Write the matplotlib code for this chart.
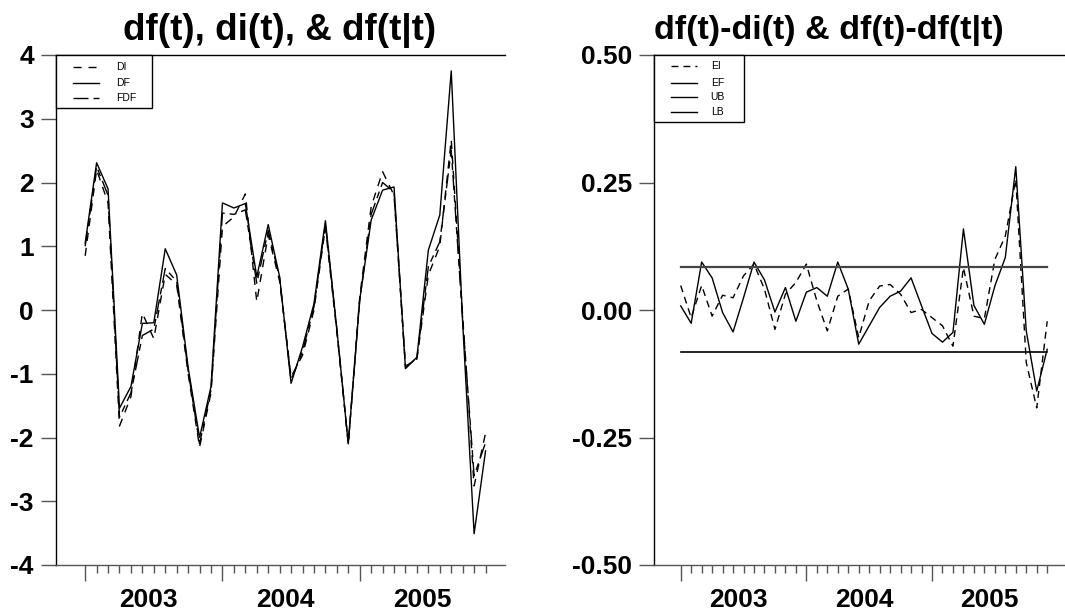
import matplotlib
matplotlib.use("Agg")
import matplotlib.pyplot as plt
from matplotlib.lines import Line2D
from matplotlib.patches import Rectangle
import numpy as np

plt.rcParams['font.family'] = ['Liberation Sans', 'DejaVu Sans']
plt.rcParams['axes.unicode_minus'] = False

# monthly index: 0 = Jan 2003 ... 35 = Dec 2005
months = list(range(36))
years = ["2003", "2004", "2005"]

DF = [1.05, 2.31, 1.90, -1.54, -1.20, -0.21, -0.20, 0.96, 0.55, -0.90,
      -2.00, -1.20, 1.68, 1.60, 1.67, 0.52, 1.34, 0.52, -1.15, -0.58,
      0.10, 1.40, -0.30, -2.10, 0.16, 1.41, 1.88, 1.93, -0.92, -0.74,
      0.94, 1.49, 3.75, -0.20, -3.51, -2.21]
DI = [0.85, 2.20, 1.68, -1.82, -1.36, -0.05, -0.45, 0.56, 0.40, -1.00,
      -2.15, -1.30, 1.31, 1.46, 1.82, 0.13, 1.18, 0.45, -1.05, -0.71,
      0.00, 1.30, -0.35, -2.10, 0.20, 1.62, 2.17, 1.80, -0.88, -0.77,
      0.55, 1.00, 2.67, -0.10, -2.76, -1.93]
FDF = [1.00, 2.25, 1.80, -1.68, -1.30, -0.40, -0.30, 0.65, 0.45, -0.95,
       -2.10, -1.25, 1.52, 1.50, 1.57, 0.42, 1.25, 0.50, -1.10, -0.65,
       0.05, 1.35, -0.30, -2.10, 0.15, 1.50, 2.00, 1.85, -0.90, -0.75,
       0.68, 1.07, 2.51, -0.15, -2.60, -2.08]

EI = [0.048, -0.015, 0.048, -0.012, 0.029, 0.024, 0.067, 0.090, 0.041, -0.038,
      0.031, 0.054, 0.090, 0.018, -0.041, 0.027, 0.041, -0.054, 0.018, 0.047,
      0.050, 0.031, -0.005, 0.001, -0.015, -0.031, -0.071, 0.083, -0.012, -0.017,
      0.099, 0.145, 0.256, -0.103, -0.192, -0.022]
EF = [0.008, -0.026, 0.094, 0.063, -0.005, -0.043, 0.024, 0.094, 0.059, -0.004,
      0.044, -0.022, 0.035, 0.044, 0.027, 0.094, 0.041, -0.067, -0.031, 0.005,
      0.027, 0.037, 0.063, 0.008, -0.046, -0.063, -0.044, 0.159, 0.009, -0.028,
      0.047, 0.103, 0.281, -0.041, -0.159, -0.077]
UB = 0.084
LB = -0.083

W, H = 1065, 614
fig = plt.figure(figsize=(W / 100, H / 100), dpi=100)

left_box = (56, 55, 505, 565)     # pixel: x0, ytop, x1, ybottom
right_box = (654, 55, 1065, 565)


def make_ax(box):
    x0, yt, x1, yb = box
    return fig.add_axes([x0 / W, 1 - yb / H, (x1 - x0) / W, (yb - yt) / H])


ax1 = make_ax(left_box)
ax2 = make_ax(right_box)

DASH_DI = (5.8, 5.0)
DASH_FDF = (10.8, 3.6, 5.0, 3.6)
DASH_EI = (5.0, 3.6)

ax1.plot(months, DI, color='black', lw=1.0, dashes=DASH_DI)
ax1.plot(months, DF, color='black', lw=1.0)
ax1.plot(months, FDF, color='black', lw=1.0, dashes=DASH_FDF)

ax2.plot(months, EI, color='black', lw=1.0, dashes=DASH_EI)
ax2.plot(months, EF, color='black', lw=1.0)
ax2.plot([months[0], months[-1]], [UB, UB], color='#444444', lw=1.6)
ax2.plot([months[0], months[-1]], [LB, LB], color='black', lw=1.2)

ax1.set_ylim(-4, 4)
ax1.set_yticks(range(-4, 5))
ax1.set_yticklabels([str(v) for v in range(-4, 5)])
ax2.set_ylim(-0.5, 0.5)
yt2 = [-0.5, -0.25, 0.0, 0.25, 0.5]
ax2.set_yticks(yt2)
ax2.set_yticklabels(["%.2f" % v for v in yt2])

for ax, box in ((ax1, left_box), (ax2, right_box)):
    ax.set_xlim(-2.55, 36.7)
    ax.set_xticks([0, 12, 24])
    ax.set_xticklabels([])
    ax.set_xticks([m for m in months if m % 12 != 0], minor=True)
    ax.tick_params(axis='x', which='major', direction='out', length=11.5,
                   width=1.0, color='#555555', bottom=True)
    ax.tick_params(axis='x', which='minor', direction='out', length=6,
                   width=1.0, color='#555555')
    ax.tick_params(axis='y', which='major', direction='out', length=11,
                   width=1.0, color='#555555', pad=5, labelsize=19)
    for lab in ax.get_yticklabels():
        lab.set_fontweight('bold')
    ax.spines['right'].set_visible(False)
    ax.spines['top'].set_color('black')
    ax.spines['left'].set_color('black')
    ax.spines['bottom'].set_color('#555555')
    for s in ax.spines.values():
        s.set_linewidth(1.0)
    for i, y in enumerate(years):
        ax.annotate(y, xy=(12 * i + 5.5, 0), xycoords=('data', 'axes fraction'),
                    xytext=(0, -42), textcoords='offset pixels',
                    ha='center', va='baseline', fontsize=19, fontweight='bold')


def draw_legend(ax, box, bw, bh, entries, sx0, sx1, tx, ys):
    x0, yt, x1, yb = box
    aw, ah = x1 - x0, yb - yt

    def fx(px):
        return px / aw

    def fy(py):
        return 1 - py / ah

    ax.add_patch(Rectangle((0, fy(bh)), fx(bw), bh / ah, transform=ax.transAxes,
                           facecolor='white', edgecolor='black', lw=1.0,
                           zorder=5, clip_on=False))
    for (lab, dashes), y in zip(entries, ys):
        ln = Line2D([fx(sx0), fx(sx1)], [fy(y), fy(y)], transform=ax.transAxes,
                    color='black', lw=1.0, zorder=6)
        if dashes is not None:
            ln.set_dashes(dashes)
        ax.add_line(ln)
        ax.text(fx(tx), fy(y), lab, transform=ax.transAxes, fontsize=7.5,
                va='center', ha='left', zorder=6)


draw_legend(ax1, left_box, 96, 53,
            [("DI", DASH_DI), ("DF", None), ("FDF", DASH_FDF)],
            16.7, 43, 59.7, [11.7, 28, 42.7])
draw_legend(ax2, right_box, 90, 66.7,
            [("EI", DASH_EI), ("EF", None), ("UB", None), ("LB", None)],
            17, 43, 56.7, [11, 27.7, 42.3, 56.7])

fig.text(280 / W, 1 - 31 / H, "df(t), di(t), & df(t|t)", ha='center', va='center',
         fontsize=26.5, fontweight='bold')
fig.text(829 / W, 1 - 31 / H, "df(t)-di(t) & df(t)-df(t|t)", ha='center', va='center',
         fontsize=24.5, fontweight='bold')

fig.savefig("out.png", dpi=100)
